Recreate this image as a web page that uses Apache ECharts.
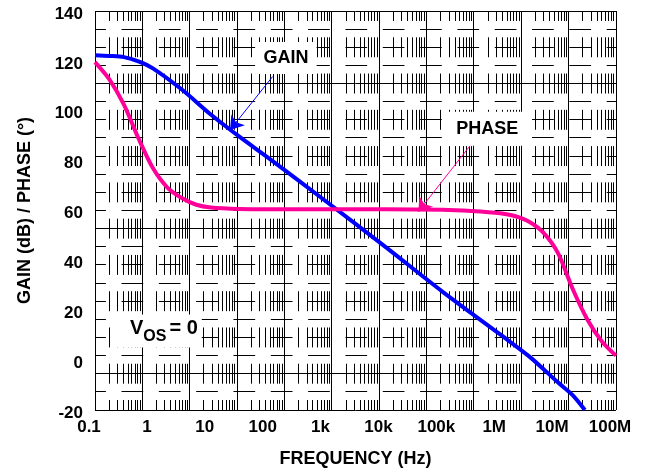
<!DOCTYPE html>
<html><head><meta charset="utf-8">
<script src="https://cdn.jsdelivr.net/npm/echarts@6/dist/echarts.min.js"></script>
<style>html,body{margin:0;padding:0;background:#fff}#c{width:647px;height:473px}</style>
</head><body><div id="c"></div>
<script>
// ---- data ----
const xTickLabels = ['0.1', '1', '10', '100', '1k', '10k', '100k', '1M', '10M', '100M'];
const gainFreq = [0.1, 0.178, 0.316, 0.562, 1, 3.16, 10, 31.6, 100, 1e3, 1e4, 1e5, 1e6, 3.16e6, 1e7, 1.78e7, 2.9e7];
const gainDb   = [122.3, 122.0, 121.5, 119.8, 117, 108.5, 98.5, 89.5, 81, 63.5, 45.7, 27.5, 10.3, 1.5, -9, -14, -20];
const phaseFreq = [0.1, 0.178, 0.316, 0.562, 1, 1.78, 3.16, 5.62, 10, 31.6, 100, 1e3, 1e4, 1e5, 3.16e5, 1e6, 1.78e6, 3.16e6, 5.62e6, 1e7, 1.78e7, 3.16e7, 5.62e7, 1e8];
const phaseDeg  = [119.5, 112.5, 102.5, 89, 77, 69.2, 65, 62.3, 61.2, 60.6, 60.5, 60.5, 60.5, 60.3, 59.8, 58.9, 57.8, 55.5, 51, 42.8, 28.6, 16.5, 7.7, 1.8];

// annotation anchors (data coordinates)
const gainLabelAt = [200, 121.2];
const gainArrow = [[117, 113.7], [21.5, 92.3]];
const phaseLabelAt = [497e3, 92.8];
const phaseArrow = [[342e3, 87.6], [38.4e3, 59.5]];
const vosLabelAt = [1.27, 11.7];

// graph-paper background layout
const paperCols = 11, paperRows = 22;
const paperMinor = [2, 3, 4, 5, 6, 7, 8, 9];
const paperSolidRows = [0, 4, 12, 20, 22];

const FONT = '"Liberation Sans", Arial, sans-serif';
const BLUE = '#0000ff', PINK = '#ff0099';

function renderPaper(params, api) {
  const children = [];
  const p0 = api.coord([0, 0]);
  const p1 = api.coord([paperCols, paperRows]);
  const x0 = p0[0], y0 = p0[1], x1 = p1[0], y1 = p1[1];
  const cw = (x1 - x0) / paperCols, rh = (y1 - y0) / paperRows;
  const crisp = v => Math.round(v - 0.5) + 0.5;
  for (let c = 0; c < paperCols; c++) {
    for (const m of paperMinor) {
      const x = crisp(api.coord([c + Math.log10(m), 0])[0]);
      children.push({type: 'line', shape: {x1: x, y1: y0, x2: x, y2: y1},
        style: {stroke: '#000', lineWidth: 1, lineDash: [1.1 * rh, 0.9 * rh], lineDashOffset: 0.55 * rh}});
    }
  }
  for (let k = 0; k <= paperRows; k++) {
    const y = crisp(api.coord([0, k])[1]);
    const solid = paperSolidRows.indexOf(k) >= 0;
    children.push({type: 'line', shape: {x1: x0, y1: y, x2: x1, y2: y},
      style: solid ? {stroke: '#000', lineWidth: 1}
                   : {stroke: '#000', lineWidth: 1, lineDash: [0.458 * cw, 0.33 * cw], lineDashOffset: 0.228 * cw}});
  }
  for (let c = 0; c <= paperCols; c++) {
    const x = crisp(api.coord([c, 0])[0]);
    children.push({type: 'line', shape: {x1: x, y1: y0, x2: x, y2: y1}, style: {stroke: '#000', lineWidth: 1}});
  }
  return {type: 'group', children};
}

const labelBox = (text, fontSize, padding) => ({
  show: true, position: 'inside', formatter: text, color: '#000',
  fontFamily: FONT, fontWeight: 'bold', fontSize: fontSize,
  backgroundColor: '#fff', padding: padding
});

const chart = echarts.init(document.getElementById('c'));
chart.setOption({
  animation: false,
  backgroundColor: '#fff',
  grid: {left: 95, top: 11, width: 521, height: 399, containLabel: false},
  xAxis: [
    {
      type: 'log', logBase: 10, min: 0.1, max: 1e8, interval: 1,
      axisLine: {show: false}, axisTick: {show: false}, splitLine: {show: false}, minorTick: {show: false},
      axisLabel: {
        margin: 9, color: '#000', fontFamily: FONT, fontWeight: 'bold', fontSize: 17,
        padding: [0, 12, 0, 0],
        formatter: v => xTickLabels[Math.round(Math.log10(v)) + 1]
      },
      name: 'FREQUENCY (Hz)', nameLocation: 'middle', nameGap: 40,
      nameTextStyle: {color: '#000', fontFamily: FONT, fontWeight: 'bold', fontSize: 18}
    },
    {type: 'value', min: 0, max: paperCols, show: false}
  ],
  yAxis: [
    {
      type: 'value', min: -20, max: 140, interval: 20,
      axisLine: {show: false}, axisTick: {show: false}, splitLine: {show: false},
      axisLabel: {
        margin: 12, color: '#000', fontFamily: FONT, fontWeight: 'bold', fontSize: 17,
        formatter: v => '{a|' + v + '}',
        rich: {a: {fontFamily: FONT, fontWeight: 'bold', fontSize: 17, color: '#000', padding: [6, 0, 0, 0]}}
      },
      name: 'GAIN (dB) / PHASE (°)', nameLocation: 'middle', nameGap: 61, nameRotate: 90,
      nameTextStyle: {color: '#000', fontFamily: FONT, fontWeight: 'bold', fontSize: 18}
    },
    {type: 'value', min: 0, max: paperRows, inverse: true, show: false}
  ],
  series: [
    {
      type: 'custom', xAxisIndex: 1, yAxisIndex: 1, data: [[0, 0]], silent: true, clip: false, z: 1,
      renderItem: renderPaper
    },
    {
      type: 'line', name: 'GAIN', xAxisIndex: 0, yAxisIndex: 0, z: 3,
      data: gainFreq.map((f, i) => [f, gainDb[i]]),
      showSymbol: false, smooth: 0.3,
      lineStyle: {color: BLUE, width: 4}, itemStyle: {color: BLUE},
      markLine: {
        silent: true, symbol: ['none', 'arrow'], symbolSize: 13,
        lineStyle: {color: BLUE, width: 1, type: 'solid'}, label: {show: false},
        data: [[{coord: gainArrow[0]}, {coord: gainArrow[1]}]]
      },
      markPoint: {
        silent: true, symbol: 'circle', symbolSize: 0,
        data: [{coord: gainLabelAt, label: labelBox('GAIN', 18, [7, 8, 7, 8])}]
      }
    },
    {
      type: 'line', name: 'PHASE', xAxisIndex: 0, yAxisIndex: 0, z: 3,
      data: phaseFreq.map((f, i) => [f, phaseDeg[i]]),
      showSymbol: false, smooth: 0.3,
      lineStyle: {color: PINK, width: 4}, itemStyle: {color: PINK},
      markLine: {
        silent: true, symbol: ['none', 'arrow'], symbolSize: 13,
        lineStyle: {color: PINK, width: 1, type: 'solid'}, label: {show: false},
        data: [[{coord: phaseArrow[0]}, {coord: phaseArrow[1]}]]
      },
      markPoint: {
        silent: true, symbol: 'circle', symbolSize: 0,
        data: [
          {coord: phaseLabelAt, label: labelBox('PHASE', 18, [8, 5, 8, 14])},
          {coord: vosLabelAt, label: {
            show: true, position: 'inside', color: '#000', backgroundColor: '#fff', padding: [4, 4, 3, 14],
            formatter: '{v|V}{s|OS}{n|= 0}',
            rich: {
              v: {fontFamily: FONT, fontWeight: 'bold', fontSize: 20, color: '#000', verticalAlign: 'top', lineHeight: 26},
              s: {fontFamily: FONT, fontWeight: 'bold', fontSize: 16, color: '#000', verticalAlign: 'bottom', lineHeight: 26},
              n: {fontFamily: FONT, fontWeight: 'bold', fontSize: 20, color: '#000', verticalAlign: 'top', lineHeight: 26, padding: [0, 0, 0, 3]}
            }
          }}
        ]
      }
    }
  ]
});
</script>
</body></html>
